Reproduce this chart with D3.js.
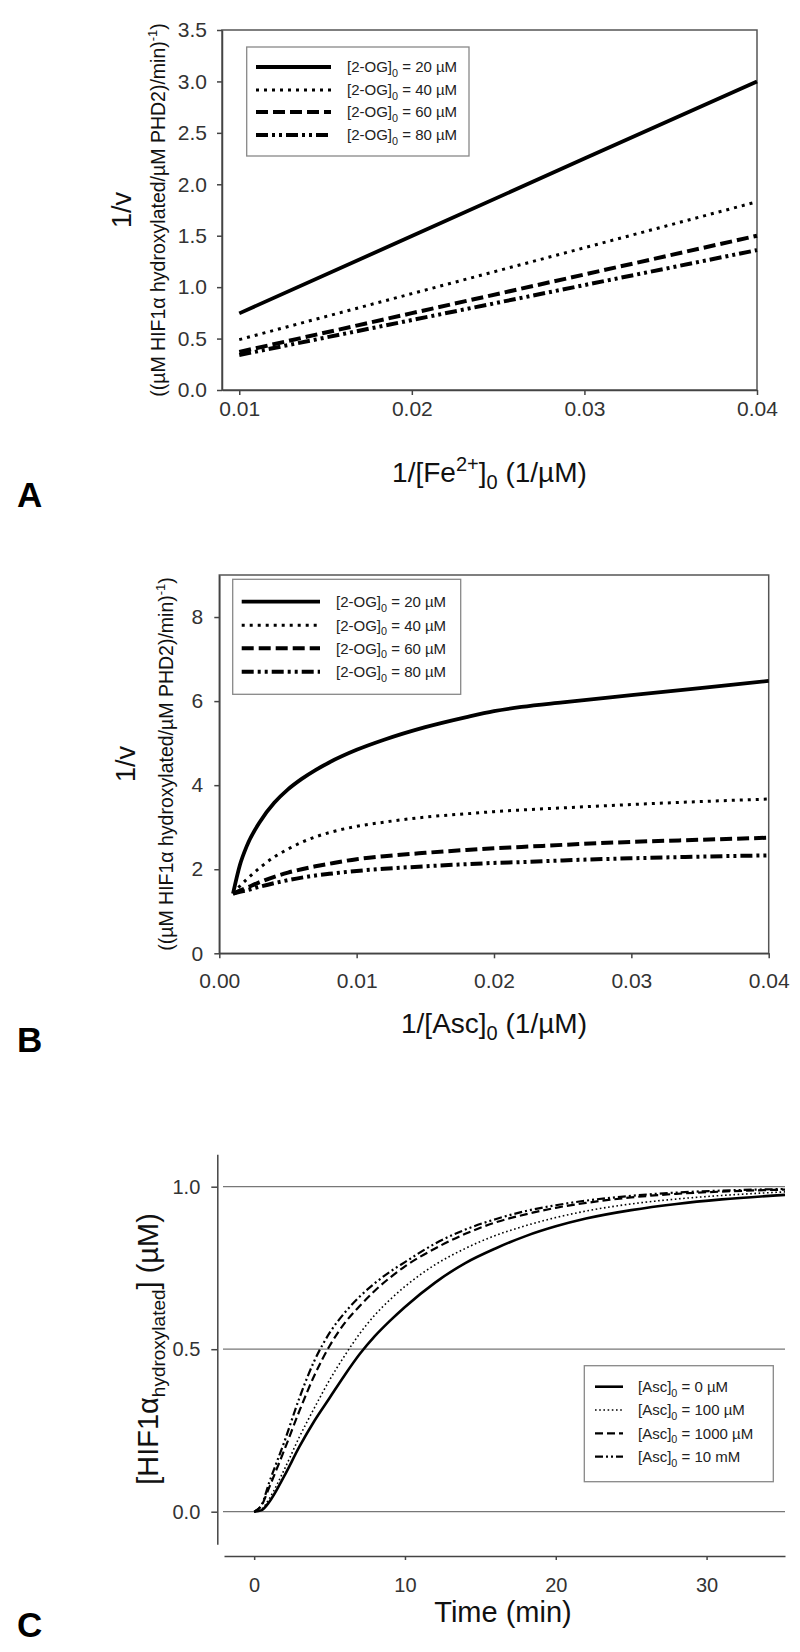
<!DOCTYPE html>
<html>
<head>
<meta charset="utf-8">
<script src="https://cdn.jsdelivr.net/npm/d3@7"></script>
<style>
  html, body { margin: 0; padding: 0; background: #fff; }
  svg { display: block; }
</style>
</head>
<body>
<script>
// ---------------- DATA ----------------
// Panel A: 1/v vs 1/[Fe2+]0
const feInv = [0.01, 0.02, 0.03, 0.04];
const aOG20 = [0.745, 1.497, 2.25, 3.0];
const aOG40 = [0.49, 0.937, 1.383, 1.83];
const aOG60 = [0.37, 0.747, 1.123, 1.50];
const aOG80 = [0.34, 0.68, 1.02, 1.36];
const aTicksX = [0.01, 0.02, 0.03, 0.04];
const aTicksY = [0, 0.5, 1.0, 1.5, 2.0, 2.5, 3.0, 3.5];

// Panel B: 1/v vs 1/[Asc]0
const ascInv = [0.001, 0.0015, 0.002, 0.003, 0.004, 0.005, 0.006, 0.007, 0.008, 0.01, 0.012, 0.015, 0.018, 0.02, 0.022, 0.025, 0.03, 0.035, 0.04];
const bOG20 = [1.42, 2.1, 2.55, 3.15, 3.58, 3.9, 4.15, 4.36, 4.54, 4.84, 5.08, 5.38, 5.62, 5.76, 5.86, 5.97, 6.14, 6.31, 6.48];
const bOG40 = [1.42, 1.6, 1.76, 2.05, 2.29, 2.48, 2.64, 2.77, 2.87, 3.02, 3.12, 3.24, 3.32, 3.37, 3.41, 3.46, 3.54, 3.61, 3.67];
const bOG60 = [1.42, 1.49, 1.56, 1.7, 1.82, 1.92, 2.0, 2.07, 2.13, 2.24, 2.31, 2.39, 2.46, 2.5, 2.53, 2.58, 2.65, 2.7, 2.75];
const bOG80 = [1.42, 1.46, 1.5, 1.59, 1.67, 1.74, 1.8, 1.85, 1.89, 1.96, 2.01, 2.07, 2.12, 2.15, 2.17, 2.21, 2.26, 2.3, 2.33];
const bTicksX = [0, 0.01, 0.02, 0.03, 0.04];
const bTicksY = [0, 2, 4, 6, 8];

// Panel C: [HIF1a hydroxylated] vs time
const timeMin  = [0, 0.5, 1, 2, 3, 4, 5, 6, 7, 8, 9, 10, 12, 14, 16, 18, 20, 22, 25, 28, 31, 35.2];
const cAsc0    = [0, 0.005, 0.03, 0.11, 0.2, 0.28, 0.35, 0.42, 0.485, 0.54, 0.587, 0.63, 0.705, 0.765, 0.81, 0.848, 0.878, 0.902, 0.928, 0.947, 0.961, 0.975];
const cAsc100  = [0, 0.008, 0.04, 0.13, 0.23, 0.32, 0.405, 0.48, 0.548, 0.605, 0.652, 0.693, 0.76, 0.81, 0.85, 0.88, 0.905, 0.925, 0.947, 0.962, 0.973, 0.984];
const cAsc1000 = [0, 0.02, 0.075, 0.19, 0.31, 0.42, 0.51, 0.58, 0.633, 0.68, 0.72, 0.755, 0.81, 0.855, 0.89, 0.915, 0.935, 0.95, 0.967, 0.978, 0.985, 0.991];
const cAsc10mM = [0, 0.022, 0.09, 0.215, 0.35, 0.465, 0.55, 0.612, 0.662, 0.703, 0.738, 0.768, 0.825, 0.868, 0.9, 0.925, 0.943, 0.957, 0.972, 0.982, 0.988, 0.993];
const cTicksX = [0, 10, 20, 30];
const cTicksY = [0, 0.5, 1.0];

const ogLabels = ["20", "40", "60", "80"];
const ascLabels = ["0 µM", "100 µM", "1000 µM", "10 mM"];

// ---------------- SETUP ----------------
const FONT = "'Liberation Sans', Arial, Helvetica, sans-serif";
const svg = d3.select("body").append("svg")
  .attr("width", 800).attr("height", 1652)
  .attr("font-family", FONT);
svg.append("rect").attr("width", 800).attr("height", 1652).attr("fill", "#fff");

const thickStyles = [
  { w: 3.8, dash: null },
  { w: 3.0, dash: "3,5" },
  { w: 4.0, dash: "12,5" },
  { w: 4.0, dash: "12,4,3,4,3,4" }
];
const thinStyles = [
  { w: 2.6, dash: null },
  { w: 1.6, dash: "1.6,2.6" },
  { w: 2.2, dash: "8,4" },
  { w: 2.2, dash: "8,3,2,3,2,3" }
];

function styleAxis(g, fs) {
  g.selectAll("text").attr("font-size", fs).attr("fill", "#333").attr("font-family", FONT);
  g.selectAll("line").attr("stroke", "#444").attr("stroke-width", 1.5);
  g.selectAll("path.domain").attr("stroke", "#444").attr("stroke-width", 1.5);
}

function drawLine(xs, ys, sx, sy, st, curve) {
  const pts = xs.map((x, i) => [x, ys[i]]);
  const gen = d3.line().x(d => sx(d[0])).y(d => sy(d[1])).curve(curve || d3.curveLinear);
  const p = svg.append("path").attr("d", gen(pts))
    .attr("fill", "none").attr("stroke", "#000")
    .attr("stroke-width", st.w).attr("stroke-linejoin", "round");
  if (st.dash) p.attr("stroke-dasharray", st.dash);
}

function legend(box, lx1, lx2, tx, rows, styles, prefix, labels, fs) {
  svg.append("rect").attr("x", box[0]).attr("y", box[1])
    .attr("width", box[2] - box[0]).attr("height", box[3] - box[1])
    .attr("fill", "#fff").attr("stroke", "#888").attr("stroke-width", 1.3);
  rows.forEach((ry, i) => {
    const st = styles[i];
    const l = svg.append("line").attr("x1", lx1).attr("x2", lx2).attr("y1", ry).attr("y2", ry)
      .attr("stroke", "#000").attr("stroke-width", st.w);
    if (st.dash) l.attr("stroke-dasharray", st.dash);
    const t = svg.append("text").attr("x", tx).attr("y", ry + fs * 0.36)
      .attr("font-size", fs).attr("fill", "#222");
    t.append("tspan").text(prefix);
    t.append("tspan").attr("font-size", fs * 0.72).attr("dy", fs * 0.3).text("0");
    t.append("tspan").attr("dy", -fs * 0.3).text(" = " + labels[i]);
  });
}

function yTitle2(xBase1, xBase2, cy) {
  svg.append("text").attr("transform", `translate(${xBase1},${cy}) rotate(-90)`)
    .attr("text-anchor", "middle").attr("font-size", 27).attr("fill", "#111").text("1/v");
  const t = svg.append("text").attr("transform", `translate(${xBase2},${cy}) rotate(-90)`)
    .attr("text-anchor", "middle").attr("font-size", 19.5).attr("fill", "#111");
  t.append("tspan").text("((µM HIF1α hydroxylated/µM PHD2)/min)");
  t.append("tspan").attr("font-size", 13).attr("dy", -8).text("-1");
  t.append("tspan").attr("dy", 8).text(")");
}

function panelLabel(txt, y) {
  svg.append("text").attr("x", 17).attr("y", y).attr("font-size", 35)
    .attr("font-weight", "bold").attr("fill", "#000").text(txt);
}

// ---------------- PANEL A ----------------
const xA = d3.scaleLinear().domain([0.009, 0.04]).range([222, 757]);
const yA = d3.scaleLinear().domain([0, 3.5]).range([390, 30]);

svg.append("rect").attr("x", xA.range()[0]).attr("y", yA.range()[1])
  .attr("width", xA.range()[1] - xA.range()[0]).attr("height", yA.range()[0] - yA.range()[1])
  .attr("fill", "none").attr("stroke", "#555").attr("stroke-width", 1.5);
styleAxis(svg.append("g").attr("transform", "translate(0,390)")
  .call(d3.axisBottom(xA).tickValues(aTicksX).tickFormat(d3.format(".2f")).tickSize(5).tickPadding(6).tickSizeOuter(0)), 21);
styleAxis(svg.append("g").attr("transform", "translate(222,0)")
  .call(d3.axisLeft(yA).tickValues(aTicksY).tickFormat(d3.format(".1f")).tickSize(5).tickPadding(10).tickSizeOuter(0)), 21);

[aOG20, aOG40, aOG60, aOG80].forEach((s, i) => drawLine(feInv, s, xA, yA, thickStyles[i]));
legend([246.7, 47, 469, 156], 256, 331, 347, [67, 90, 112, 135], thickStyles, "[2-OG]", ogLabels.map(d => d + " µM"), 15);

yTitle2(131, 165, 210);
{
  const t = svg.append("text").attr("x", 489.5).attr("y", 482).attr("text-anchor", "middle")
    .attr("font-size", 28).attr("fill", "#111");
  t.append("tspan").text("1/[Fe");
  t.append("tspan").attr("font-size", 20).attr("dy", -11).text("2+");
  t.append("tspan").attr("dy", 11).text("]");
  t.append("tspan").attr("font-size", 20).attr("dy", 7).text("0");
  t.append("tspan").attr("dy", -7).text(" (1/µM)");
}
panelLabel("A", 507);

// ---------------- PANEL B ----------------
const xB = d3.scaleLinear().domain([0, 0.04]).range([219.3, 768.7]);
const yB = d3.scaleLinear().domain([0, 9]).range([953.3, 575]);

svg.append("rect").attr("x", xB.range()[0]).attr("y", yB.range()[1])
  .attr("width", xB.range()[1] - xB.range()[0]).attr("height", yB.range()[0] - yB.range()[1])
  .attr("fill", "none").attr("stroke", "#555").attr("stroke-width", 1.5);
styleAxis(svg.append("g").attr("transform", "translate(0,953.3)")
  .call(d3.axisBottom(xB).tickValues(bTicksX).tickFormat(d3.format(".2f")).tickSize(5).tickPadding(15).tickSizeOuter(0)), 21);
styleAxis(svg.append("g").attr("transform", "translate(219.3,0)")
  .call(d3.axisLeft(yB).tickValues(bTicksY).tickFormat(d3.format("d")).tickSize(5).tickPadding(11).tickSizeOuter(0)), 21);

[bOG20, bOG40, bOG60, bOG80].forEach((s, i) => drawLine(ascInv, s, xB, yB, thickStyles[i], d3.curveMonotoneX));
legend([232.7, 579.3, 460.7, 694.3], 241.7, 320, 336, [601.7, 625.3, 648.3, 671.7], thickStyles, "[2-OG]", ogLabels.map(d => d + " µM"), 15);

yTitle2(135, 173, 764);
{
  const t = svg.append("text").attr("x", 494).attr("y", 1033).attr("text-anchor", "middle")
    .attr("font-size", 28).attr("fill", "#111");
  t.append("tspan").text("1/[Asc]");
  t.append("tspan").attr("font-size", 20).attr("dy", 7).text("0");
  t.append("tspan").attr("dy", -7).text(" (1/µM)");
}
panelLabel("B", 1052);

// ---------------- PANEL C ----------------
const xC = d3.scaleLinear().domain([-2, 35.2]).range([224, 785]);
const yC = d3.scaleLinear().domain([-0.1, 1.1]).range([1544.2, 1154.2]);

// gridlines
cTicksY.forEach(v => {
  svg.append("line").attr("x1", 223).attr("x2", 785).attr("y1", yC(v)).attr("y2", yC(v))
    .attr("stroke", "#777").attr("stroke-width", 1.3);
});
styleAxis(svg.append("g").attr("transform", "translate(0,1556)")
  .call(d3.axisBottom(xC).tickValues(cTicksX).tickFormat(d3.format("d")).tickSize(4).tickPadding(18).tickSizeOuter(0)), 20);
styleAxis(svg.append("g").attr("transform", "translate(217.3,0)")
  .call(d3.axisLeft(yC).tickValues(cTicksY).tickFormat(d3.format(".1f")).tickSize(6).tickPadding(11).tickSizeOuter(0)), 20);

[cAsc0, cAsc100, cAsc1000, cAsc10mM].forEach((s, i) => drawLine(timeMin, s, xC, yC, thinStyles[i], d3.curveMonotoneX));
legend([584.3, 1365.7, 773.3, 1481.7], 595, 623, 638, [1386.7, 1410, 1433.3, 1456.7], thinStyles, "[Asc]", ascLabels, 15);

{
  const t = svg.append("text").attr("transform", "translate(158,1349) rotate(-90)")
    .attr("text-anchor", "middle").attr("font-size", 29).attr("fill", "#111");
  t.append("tspan").text("[HIF1α");
  t.append("tspan").attr("font-size", 19).attr("dy", 7).text("hydroxylated");
  t.append("tspan").attr("dy", -7).text("] (µM)");
}
svg.append("text").attr("x", 503).attr("y", 1622).attr("text-anchor", "middle")
  .attr("font-size", 29).attr("fill", "#111").text("Time (min)");
panelLabel("C", 1637);
</script>
</body>
</html>
